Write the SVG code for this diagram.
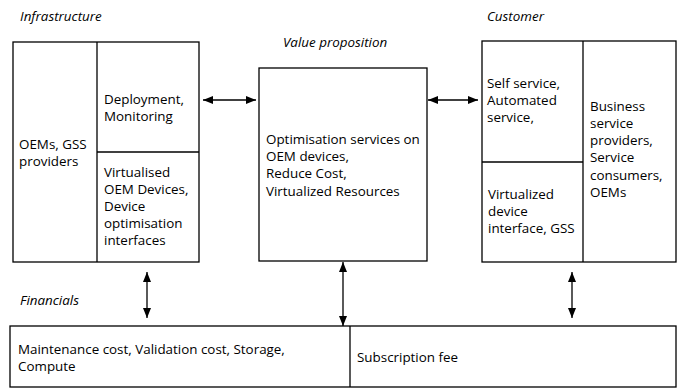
<svg xmlns="http://www.w3.org/2000/svg" width="685" height="391" viewBox="0 0 685 391">
<defs>
<style>
.box{fill:#fff;stroke:#000;stroke-width:1.3}
.div{stroke:#000;stroke-width:1.3;fill:none}
.t{font-family:"Open Sans",Lato,sans-serif;font-size:13.4px;fill:#000}
.h{font-family:"Open Sans",Lato,sans-serif;font-size:13.4px;font-style:italic;fill:#000}
.c{stroke:#000;stroke-width:1.3;fill:none;marker-start:url(#ah);marker-end:url(#ah)}
</style>
<marker id="ah" viewBox="0 0 10 8" refX="10" refY="4" markerWidth="10" markerHeight="8" markerUnits="userSpaceOnUse" orient="auto-start-reverse">
<path d="M0,0 L10,4 L0,8 Z" fill="#000"/>
</marker>
</defs>
<rect width="685" height="391" fill="#fff"/>
<text class="h" x="20" y="21">Infrastructure</text>
<text class="h" x="283" y="47">Value proposition</text>
<text class="h" x="487" y="21">Customer</text>
<text class="h" x="20" y="305">Financials</text>

<g id="infrastructure">
<rect class="box" x="13" y="42" width="186" height="220"/>
<line class="div" x1="97" y1="42" x2="97" y2="262"/>
<line class="div" x1="97" y1="152" x2="199" y2="152"/>
<text class="t"><tspan x="19" y="149">OEMs, GSS</tspan><tspan x="19" y="166">providers</tspan></text>
<text class="t"><tspan x="104" y="104">Deployment,</tspan><tspan x="104" y="121">Monitoring</tspan></text>
<text class="t"><tspan x="104" y="177">Virtualised</tspan><tspan x="104" y="194">OEM Devices,</tspan><tspan x="104" y="211">Device</tspan><tspan x="104" y="228">optimisation</tspan><tspan x="104" y="245">interfaces</tspan></text>
</g>

<g id="value">
<rect class="box" x="259" y="68" width="168" height="193"/>
<text class="t"><tspan x="266" y="144">Optimisation services on</tspan><tspan x="266" y="161">OEM devices,</tspan><tspan x="266" y="178">Reduce Cost,</tspan><tspan x="266" y="196">Virtualized Resources</tspan></text>
</g>

<g id="customer">
<rect class="box" x="482" y="41" width="194" height="221"/>
<line class="div" x1="583" y1="41" x2="583" y2="262"/>
<line class="div" x1="482" y1="162" x2="583" y2="162"/>
<text class="t"><tspan x="487" y="88">Self service,</tspan><tspan x="487" y="105">Automated</tspan><tspan x="487" y="122">service,</tspan></text>
<text class="t"><tspan x="488" y="199">Virtualized</tspan><tspan x="488" y="216">device</tspan><tspan x="488" y="233">interface, GSS</tspan></text>
<text class="t"><tspan x="590" y="111">Business</tspan><tspan x="590" y="128">service</tspan><tspan x="590" y="145">providers,</tspan><tspan x="590" y="162">Service</tspan><tspan x="590" y="180">consumers,</tspan><tspan x="590" y="197">OEMs</tspan></text>
</g>

<g id="financials">
<rect class="box" x="10" y="326" width="666" height="61"/>
<line class="div" x1="350" y1="326" x2="350" y2="387"/>
<text class="t"><tspan x="18" y="354">Maintenance cost, Validation cost, Storage,</tspan><tspan x="18" y="371">Compute</tspan></text>
<text class="t" x="357" y="362">Subscription fee</text>
</g>

<g id="connectors">
<line class="c" x1="203" y1="100" x2="256" y2="100"/>
<line class="c" x1="428" y1="100" x2="478" y2="100"/>
<line class="c" x1="147" y1="272" x2="147" y2="318"/>
<line class="c" x1="343" y1="262" x2="343" y2="326"/>
<line class="c" x1="572" y1="272" x2="572" y2="318"/>
</g>
</svg>
